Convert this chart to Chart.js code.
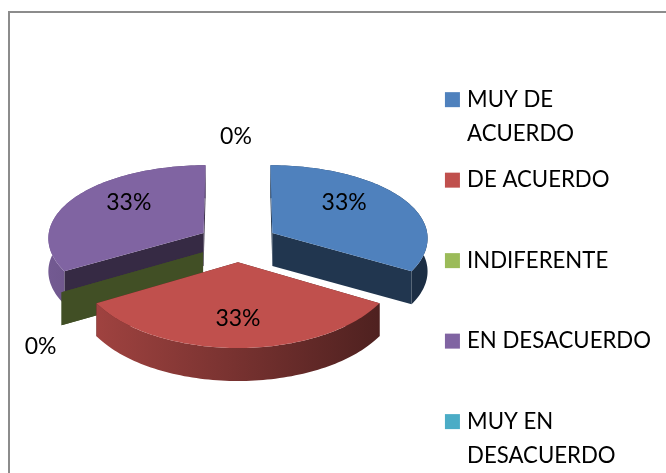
<!DOCTYPE html>
<html>
<head>
<meta charset="utf-8">
<style>
html,body{margin:0;padding:0;background:#fff;overflow:hidden}
canvas{display:block}
</style>
<script src="https://cdn.jsdelivr.net/npm/chart.js@4/dist/chart.umd.js"></script>
</head>
<body>
<canvas id="c" width="666" height="473"></canvas>
<script>
const categories = [['MUY DE','ACUERDO'],['DE ACUERDO',''],['INDIFERENTE',''],['EN DESACUERDO',''],['MUY EN','DESACUERDO']];
const values = [1,1,0,1,0];
const colors = ['#4f81bd','#c0504d','#9bbb59','#8064a2','#4bacc6'];
const FONT = 'Lato, Carlito, Calibri, sans-serif';

function rgb(hex,f){const n=parseInt(hex.slice(1),16);return `rgb(${Math.round((n>>16&255)*f)},${Math.round((n>>8&255)*f)},${Math.round((n&255)*f)})`;}

const pie3d = {
  id:'pie3d',
  beforeDatasetDraw(chart,args,o){
    const meta=chart.getDatasetMeta(0), ctx=chart.ctx;
    const P=(arc,u,v,z=0)=>[arc.x+o.a*u/(1-o.perspX*v), arc.y+o.b*v/(1-o.persp*v)+z*o.depth];
    const items=meta.data.map((arc,i)=>{
      const p=arc.getProps(['startAngle','endAngle','outerRadius','x','y']);
      const mid=(p.startAngle+p.endAngle)/2, e=arc.options.offset/p.outerRadius;
      return {i,arc:p,mid,ox:Math.cos(mid)*e,oy:Math.sin(mid)*e};
    }).sort((a,b)=>Math.sin(a.mid)-Math.sin(b.mid));
    const sweep=(it,z)=>{const pts=[],n=Math.max(2,Math.ceil((it.arc.endAngle-it.arc.startAngle)*40));
      for(let k=0;k<=n;k++){const t=it.arc.startAngle+(it.arc.endAngle-it.arc.startAngle)*k/n;
        pts.push(P(it.arc,it.ox+Math.cos(t),it.oy+Math.sin(t),z));}
      return pts;};
    const poly=(pts,fill)=>{ctx.beginPath();pts.forEach((q,k)=>k?ctx.lineTo(q[0],q[1]):ctx.moveTo(q[0],q[1]));ctx.closePath();ctx.fillStyle=fill;ctx.fill();};
    ctx.save();
    items.forEach(it=>{
      const c=colors[it.i], apex0=P(it.arc,it.ox,it.oy,0), apex1=P(it.arc,it.ox,it.oy,1);
      const top=sweep(it,0), bot=sweep(it,1);
      const g=ctx.createLinearGradient(it.arc.x-190,0,it.arc.x+175,0);
      g.addColorStop(0,rgb(c,.9));g.addColorStop(1,rgb(c,.36));
      poly([apex0,top[0],bot[0],apex1],rgb(c,o.wall));
      poly([apex0,top[top.length-1],bot[bot.length-1],apex1],rgb(c,o.wall));
      if(it.arc.endAngle-it.arc.startAngle>1e-6){
        poly(top.concat(bot.slice().reverse()),g);
        poly([apex0].concat(top),c);
      }
    });
    ctx.restore();
    return false;
  },
  afterDatasetsDraw(chart,args,o){
    const meta=chart.getDatasetMeta(0), ctx=chart.ctx;
    const total=values.reduce((a,b)=>a+b,0);
    ctx.save();
    ctx.font=o.labelFont+'px '+FONT;ctx.fillStyle='#000';ctx.textAlign='center';ctx.textBaseline='middle';
    meta.data.forEach((arc,i)=>{
      const p=arc.getProps(['startAngle','endAngle','x','y']);
      const mid=(p.startAngle+p.endAngle)/2;
      const [t,dx,dy]=o.labelPlace[i];
      const u=Math.cos(mid)*t,v=Math.sin(mid)*t,s=1/(1-.1*v);
      ctx.fillText(Math.round(values[i]/total*100)+'%',p.x+o.a*u*s+dx,p.y+o.b*v*s+dy);
    });
    ctx.restore();
  },
  afterDraw(chart){
    const ctx=chart.ctx;
    ctx.save();ctx.strokeStyle='#8c8c8c';ctx.lineWidth=2;
    ctx.beginPath();ctx.moveTo(9,473);ctx.lineTo(9,12);ctx.lineTo(666,12);ctx.stroke();
    ctx.restore();
  }
};

new Chart(document.getElementById('c'),{
  type:'pie',
  data:{labels:categories,datasets:[{data:values,backgroundColor:colors,offset:45,borderWidth:0}]},
  options:{
    responsive:false,animation:false,rotation:0,
    layout:{padding:{left:40,top:12,bottom:-18,right:5}},
    plugins:{
      tooltip:{enabled:false},
      pie3d:{a:156,b:75,persp:.085,perspX:.06,depth:33,wall:.42,labelFont:23,
        labelPlace:[[.85,-4,-9],[.95,0,-3],[1.4,6,48],[.85,1,-9],[1.65,-2,0]]},
      legend:{position:'right',align:'end',
        labels:{
          font:{family:FONT,size:22.2,lineHeight:1.52},color:'#000',boxWidth:7,boxHeight:7,padding:13,
          generateLabels(chart){return chart.data.labels.map((t,i)=>({text:t,fillStyle:colors[i],strokeStyle:colors[i],lineWidth:8,index:i}));}
        }
      }
    }
  },
  plugins:[pie3d]
});
</script>
</body>
</html>
